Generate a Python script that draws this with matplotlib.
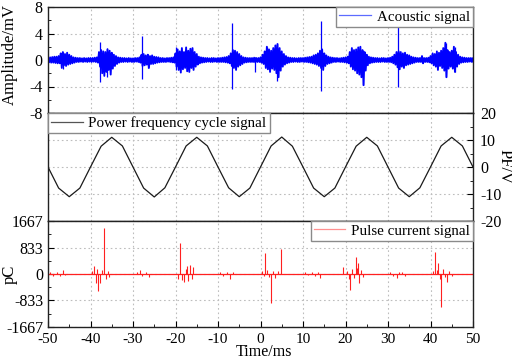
import numpy as np
import matplotlib
matplotlib.use("Agg")
import matplotlib.pyplot as plt
from matplotlib.ticker import MultipleLocator, FixedLocator
from matplotlib.lines import Line2D

# ---------------- data ----------------
# Acoustic signal envelope, sampled every 0.5 ms from -50 to 50 ms (mV)
ac_hi = [
    0.35, 0.4, 0.45, 0.5, 0.5, 0.6, 1.0, 1.2, 0.9, 1.1, 0.8, 0.6, 0.4, 0.35, 0.3, 0.3, 0.25, 0.3, 0.25, 0.3,
    0.3, 0.3, 0.35, 0.4, 1.2, 1.5, 1.3, 1.2, 1.6, 1.4, 1.1, 0.8, 0.6, 0.4, 0.35, 0.3, 0.3, 0.25, 0.3, 0.25,
    0.25, 0.3, 0.3, 0.4, 0.8, 0.9, 0.7, 0.8, 0.6, 0.7, 0.5, 0.45, 0.4, 0.3, 0.3, 0.25, 0.3, 0.3, 0.35, 0.4,
    1.0, 1.6, 1.3, 1.8, 1.2, 1.9, 1.4, 1.7, 1.8, 1.2, 0.9, 0.5, 0.4, 0.35, 0.3, 0.3, 0.25, 0.3, 0.3, 0.25,
    0.3, 0.3, 0.35, 0.4, 0.45, 0.6, 1.0, 1.5, 1.4, 1.2, 0.9, 0.6, 0.4, 0.35, 0.3, 0.3, 0.3, 0.35, 0.3, 0.3,
    0.4, 0.8, 1.3, 2.0, 1.6, 1.4, 1.8, 2.2, 2.4, 1.8, 1.3, 0.9, 0.6, 0.4, 0.35, 0.3, 0.3, 0.25, 0.3, 0.3,
    0.3, 0.35, 0.4, 0.45, 0.5, 0.7, 0.8, 1.0, 1.4, 1.6, 1.0, 0.7, 0.5, 0.4, 0.35, 0.3, 0.3, 0.25, 0.3, 0.35,
    0.4, 0.5, 1.2, 1.8, 1.5, 1.6, 1.9, 2.0, 1.5, 1.2, 0.8, 0.5, 0.4, 0.35, 0.3, 0.3, 0.25, 0.3, 0.3, 0.25,
    0.3, 0.35, 0.5, 0.8, 1.2, 1.3, 1.2, 1.0, 1.1, 0.8, 0.7, 0.5, 0.4, 0.35, 0.3, 0.3, 0.6, 0.3, 0.3, 0.35,
    0.6, 1.0, 0.9, 1.3, 1.1, 1.4, 1.8, 2.6, 1.5, 1.2, 1.4, 2.0, 1.2, 0.8, 0.5, 0.4, 0.35, 0.3, 0.3, 0.3,
    0.3,
]
ac_lo = [
    -0.35, -0.4, -0.4, -0.45, -0.5, -0.5, -1.2, -0.8, -0.9, -0.7, -0.6, -0.5, -0.4, -0.3, -0.3, -0.25, -0.3, -0.25, -0.3, -0.25,
    -0.3, -0.25, -0.3, -0.4, -1.0, -2.0, -2.4, -1.8, -1.5, -2.2, -1.3, -0.9, -0.6, -0.4, -0.3, -0.3, -0.25, -0.3, -0.25, -0.3,
    -0.3, -0.25, -0.3, -0.4, -0.9, -0.8, -0.7, -1.2, -0.6, -0.6, -0.5, -0.4, -0.35, -0.3, -0.3, -0.3, -0.25, -0.3, -0.35, -0.4,
    -1.0, -1.5, -1.9, -1.4, -1.2, -1.7, -1.8, -1.2, -1.5, -1.0, -0.7, -0.5, -0.4, -0.35, -0.3, -0.25, -0.3, -0.3, -0.25, -0.3,
    -0.3, -0.3, -0.3, -0.35, -0.4, -0.5, -0.9, -1.2, -1.5, -1.0, -0.8, -0.6, -0.4, -0.35, -0.3, -0.3, -0.3, -0.35, -0.3, -0.3,
    -0.4, -0.6, -1.2, -1.4, -1.8, -1.3, -1.5, -2.0, -2.6, -1.6, -1.0, -0.7, -0.5, -0.4, -0.3, -0.3, -0.25, -0.3, -0.3, -0.25,
    -0.3, -0.3, -0.35, -0.4, -0.5, -0.6, -0.7, -0.9, -1.2, -1.5, -0.9, -0.6, -0.5, -0.4, -0.3, -0.3, -0.25, -0.3, -0.3, -0.35,
    -0.4, -0.5, -1.0, -1.4, -1.6, -2.0, -2.2, -2.6, -3.8, -1.6, -0.8, -0.5, -0.4, -0.35, -0.3, -0.3, -0.3, -0.25, -0.3, -0.3,
    -0.3, -0.35, -0.5, -0.7, -1.1, -1.4, -1.0, -1.2, -0.8, -0.7, -0.6, -0.5, -0.4, -0.3, -0.3, -0.3, -0.5, -0.3, -0.3, -0.35,
    -0.5, -0.8, -1.0, -1.5, -0.9, -1.2, -1.6, -2.6, -1.3, -1.0, -1.3, -1.8, -1.0, -0.6, -0.4, -0.35, -0.3, -0.3, -0.25, -0.3,
    -0.3,
]
# Acoustic isolated spikes (ms, mV)
ac_spike_t = [-46.5, -37.8, -36.2, -27.9, -26.5, -19.9, -6.7, -1.3, 1.6, 3.9, 14.3, 24.1, 32.4, 43.6, 45.7]
ac_spike_hi = [1.2, 2.7, 1.8, 3.6, 0.6, 2.0, 5.6, 0.5, 2.0, 2.6, 5.9, 1.5, 5.0, 2.6, 2.0]
ac_spike_lo = [-1.3, -3.3, -2.6, -2.9, -1.2, -1.5, -4.4, -1.8, -1.4, -3.2, -4.7, -3.8, -4.0, -2.6, -1.8]

# Power frequency cycle, sampled every 2.5 ms (V)
pf_v = [
    0.0, -7.8, -11.0, -7.8, 0.0, 7.7, 11.0, 7.8,
    0.0, -7.8, -11.1, -7.7, 0.0, 7.8, 11.0, 7.8,
    0.0, -7.7, -11.0, -7.8, 0.0, 7.8, 11.1, 7.7,
    0.0, -7.8, -11.0, -7.8, 0.0, 7.7, 11.0, 7.8,
    0.0, -7.8, -11.0, -7.7, 0.0, 7.8, 11.0, 7.8,
    0.0,
]

# Pulse current pulses (ms, pC)
pc_t = [-49.5, -48.8, -48.0, -47.2, -46.4, -46.0,
        -39.6, -39.2, -38.8, -38.5, -38.2, -37.8, -37.3, -36.8, -36.4, -36.0, -35.6,
        -29.0, -28.3, -27.8, -27.0, -26.3,
        -19.3, -18.9, -18.5, -18.0, -17.6, -17.3, -17.0, -16.6, -16.2, -15.9,
        -9.5, -8.8, -8.0, -7.2, -6.5,
        0.4, 0.8, 1.1, 1.5, 2.0, 2.5, 3.0, 3.5, 4.0, 4.8,
        10.5, 11.2, 12.0, 12.8, 13.6, 14.1,
        19.4, 20.3, 20.8, 21.1, 21.6, 22.0, 22.5, 22.8, 23.0, 23.2, 23.6, 24.0,
        30.5, 31.2, 32.0, 32.6, 33.4, 34.0,
        40.6, 41.1, 41.5, 41.8, 42.2, 42.5, 43.0, 43.5, 43.9, 44.4, 45.0]
pc_v = [60, -50, 70, -60, 130, -40,
        80, 250, -280, 150, -530, -290, 120, 1450, -150, 100, -90,
        50, 120, -50, 60, -90,
        -150, 975, -200, -260, 150, 250, -220, 280, -150, 220,
        50, -60, 60, -150, 50,
        80, -60, 660, 120, -100, -920, 80, -120, 90, 790,
        50, -40, 60, -50, 50, -130,
        220, 80, -150, -500, 150, -120, 530, 200, 350, -290, 130, -80,
        50, -60, -130, 60, 60, -50,
        80, 700, 120, 350, -150, -1040, 150, -100, -250, 80, -60]

x_ticks = [-50, -40, -30, -20, -10, 0, 10, 20, 30, 40, 50]
amp_ticks = [-8, -4, 0, 4, 8]
pf_ticks = [-20, -10, 0, 10, 20]
pc_ticks = [-1667, -833, 0, 833, 1667]

# ---------------- style ----------------
plt.rcParams['font.family'] = ['Liberation Serif', 'DejaVu Serif']
plt.rcParams['axes.unicode_minus'] = False
TICK_FS = 11.5
LEG_FS = 10.8
LAB_FS = 12
GRID = dict(ls=(0, (1.5, 2.5)), color='#bdbdbd', lw=0.8)

fig = plt.figure(figsize=(5.12, 3.61), dpi=100)
L, R = 48 / 512, 473 / 512
def fy(p):
    return 1 - p / 361
ax1 = fig.add_axes([L, fy(113), R - L, fy(7) - fy(113)])
ax2 = fig.add_axes([L, fy(221), R - L, fy(113) - fy(221)])
ax3 = fig.add_axes([L, fy(327), R - L, fy(221) - fy(327)])

for ax in (ax1, ax2, ax3):
    ax.set_xlim(-50, 50)
    ax.set_xticks(x_ticks)
    ax.xaxis.set_minor_locator(MultipleLocator(5))
    ax.grid(True, which='major', **GRID)
    ax.set_axisbelow(True)
    for s in ax.spines.values():
        s.set_linewidth(1.0)
        s.set_color('#222222')

# --- acoustic ---
t_env = np.arange(len(ac_hi)) * 0.5 - 50
xz = np.empty(2 * len(ac_hi))
yz = np.empty(2 * len(ac_hi))
xz[0::2] = t_env
xz[1::2] = t_env + 0.25
yz[0::2] = ac_hi
yz[1::2] = ac_lo
ax1.plot(xz, yz, color='#0000ff', lw=1.35)
ax1.vlines(ac_spike_t, ac_spike_lo, ac_spike_hi, color='#0000ff', lw=0.9)
ax1.set_ylim(-8, 8)
ax1.set_yticks(amp_ticks)
ax1.yaxis.set_minor_locator(MultipleLocator(2))
ax1.tick_params(axis='both', which='both', direction='in', labelsize=TICK_FS,
                bottom=False, labelbottom=False, left=True, right=False, pad=4)
ax1.tick_params(which='major', length=4)
ax1.tick_params(which='minor', length=2.5)
ax1.set_ylabel('Amplitude/mV', fontsize=LAB_FS)
ax1.yaxis.set_label_coords(-0.07, 0.55)
leg1 = ax1.legend([Line2D([], [], color='#5c6bff', lw=0.9)], ['Acoustic signal'],
                  loc='upper right', borderaxespad=0, fancybox=False, framealpha=1,
                  edgecolor='#8a8a8a', fontsize=LEG_FS, handlelength=2.1,
                  handletextpad=0.4, borderpad=0.2)
leg1.get_frame().set_linewidth(1.0)

# --- power frequency ---
pf_t = np.arange(len(pf_v)) * 2.5 - 50
ax2.plot(pf_t, pf_v, color='#1a1a1a', lw=0.9)
ax2.set_ylim(-20, 20)
ax2.yaxis.tick_right()
ax2.set_yticks(pf_ticks)
ax2.yaxis.set_minor_locator(MultipleLocator(5))
ax2.tick_params(axis='both', which='both', direction='in', labelsize=TICK_FS,
                bottom=False, labelbottom=False, left=False, labelleft=False,
                right=True, labelright=True, pad=5)
ax2.tick_params(which='major', length=4)
ax2.tick_params(which='minor', length=2.5)
ax2.yaxis.set_label_position('right')
ax2.set_ylabel('PF/V', fontsize=LAB_FS, rotation=270, va='center')
ax2.yaxis.set_label_coords(1.075, 0.5)
leg2 = ax2.legend([Line2D([], [], color='#555555', lw=0.9)], ['Power frequency cycle signal'],
                  loc='upper left', borderaxespad=0, fancybox=False, framealpha=1,
                  edgecolor='#8a8a8a', fontsize=LEG_FS, handlelength=2.1,
                  handletextpad=0.4, borderpad=0.2)
leg2.get_frame().set_linewidth(1.0)

# --- pulse current ---
ax3.axhline(0, color='#ff2020', lw=0.9)
ax3.vlines(pc_t, 0, pc_v, color='#ff2020', lw=0.8)
ax3.set_ylim(-1667, 1667)
ax3.set_yticks(pc_ticks)
ax3.yaxis.set_minor_locator(FixedLocator([-1250, -416.5, 416.5, 1250]))
ax3.tick_params(axis='both', which='both', direction='in', labelsize=TICK_FS,
                bottom=True, left=True, right=False, top=False, pad=3.5)
ax3.tick_params(axis='x', which='both', pad=4.5, labelsize=11)
ax3.tick_params(which='major', length=4)
ax3.tick_params(which='minor', length=2.5)
ax3.set_ylabel('pC', fontsize=LAB_FS)
ax3.yaxis.set_label_coords(-0.072, 0.5)
ax3.set_xlabel('Time/ms', fontsize=11.5, va='bottom')
ax3.xaxis.set_label_coords(0.508, -(360.5 - 327) / (327 - 221))
leg3 = ax3.legend([Line2D([], [], color='#ff9090', lw=0.9)], ['Pulse current signal'],
                  loc='upper right', borderaxespad=0, fancybox=False, framealpha=1,
                  edgecolor='#8a8a8a', fontsize=LEG_FS, handlelength=2.1,
                  handletextpad=0.4, borderpad=0.2)
leg3.get_frame().set_linewidth(1.0)

fig.savefig('out.png', dpi=100)
